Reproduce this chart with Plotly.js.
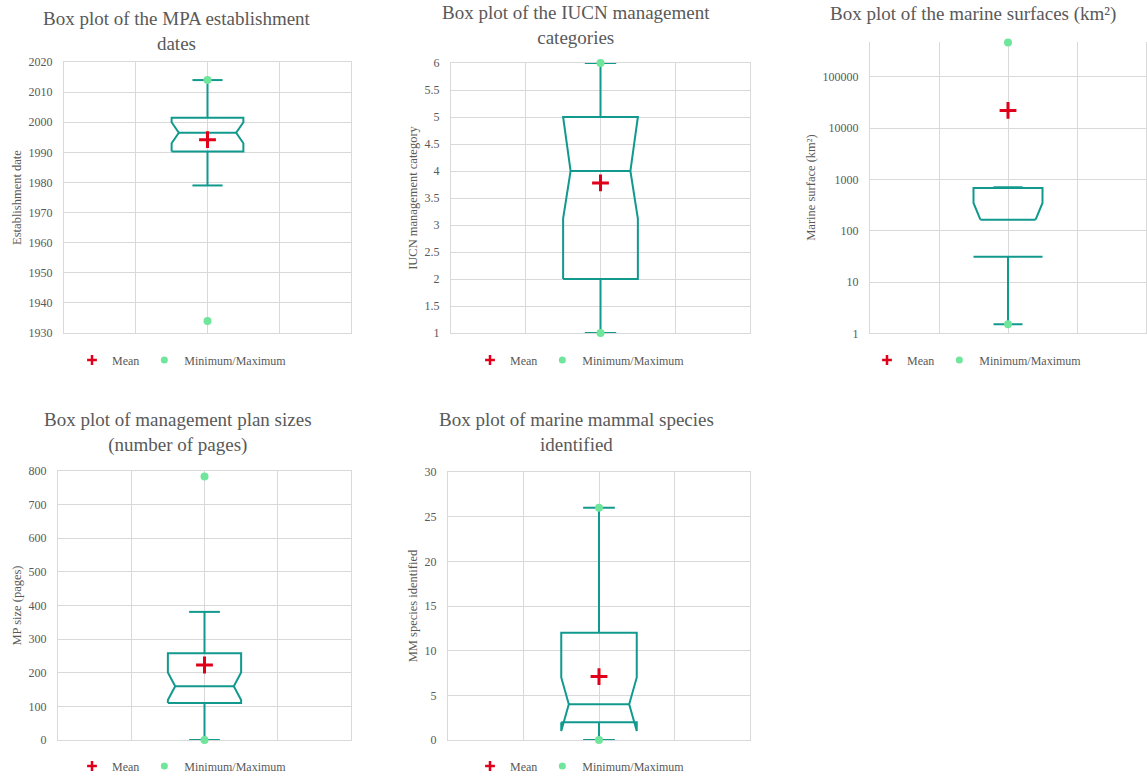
<!DOCTYPE html>
<html>
<head>
<meta charset="utf-8">
<script src="https://cdn.plot.ly/plotly-3.0.1.min.js"></script>
<style>html,body{margin:0;padding:0;background:#fff;}#chart{width:1147px;height:776px;}</style>
</head>
<body>
<div id="chart"></div>
<script>
// ---------- data ----------
const chartTitles = [
  "Box plot of the MPA establishment<br>dates",
  "Box plot of the IUCN management<br>categories",
  "Box plot of the marine surfaces (km²)",
  "Box plot of management plan sizes<br>(number of pages)",
  "Box plot of marine mammal species<br>identified"
];
const axisTitles = ["Establishment date", "IUCN management category", "Marine surface (km²)", "MP size (pages)", "MM species identified"];
const legendNames = ["Mean", "Minimum/Maximum"];

const q1         = [1990.25, 2,    31,     110, 2];
const median     = [1996.5,  4,    164,    160, 4];
const q3         = [2001.5,  5,    680,    258, 12];
const notchLow   = [1993,    3.12, null,   119, 1];   // null: lower notch falls below 0 (not drawable on log axis)
const notchHigh  = [2000,    5,    347,    201, 7];
const whiskerLow = [1979,    1,    1.5,    0,   0];
const whiskerHigh= [2014,    6,    700,    381, 26];
const means      = [1994.2,  3.78, 22100,  223, 7.1];
const minimums   = [1934,    1,    1.5,    0,   0];
const maximums   = [2014,    6,    468000, 784, 26];

const yRanges = [[1930, 2020], [1, 6], [0, 5.684], [0, 800], [0, 30]];
const yDticks = [10, 0.5, 1, 100, 5];

// ---------- layout geometry (pixels) ----------
const W = 1147, H = 776;
const boxes = [
  {l: 64,  r: 351,  t: 62,  b: 333},
  {l: 451, r: 750,  t: 63,  b: 333},
  {l: 870, r: 1146, t: 41.7,b: 333.3},
  {l: 58,  r: 351,  t: 471, b: 740},
  {l: 448, r: 750,  t: 472, b: 740}
];
const titlePos = [[177, 31.5], [576, 25], [973, 13.5], [178, 432], [576, 432]];
const legendPos = [[182, 360], [580, 360], [977, 360], [182, 766], [580, 766]];

const TEAL = '#11998E', RED = '#E0001A', GREEN = '#70E59C', GREY = '#595959', GRID = '#D9D9D9';
const FONT = 'Liberation Serif';

const traces = [];
const layout = {
  width: W, height: H,
  margin: {l: 0, r: 0, t: 0, b: 0, autoexpand: false},
  paper_bgcolor: '#fff', plot_bgcolor: '#fff',
  font: {family: FONT, color: GREY, size: 12},
  showlegend: true,
  annotations: [],
  hovermode: false
};

for (let i = 0; i < 5; i++) {
  const n = i === 0 ? '' : String(i + 1);
  const xa = 'x' + n, ya = 'y' + n;
  const b = boxes[i];
  const isLog = i === 2;

  // box outline built from the statistics
  const L = 1.5, R = 2.5, Li = 1.6, Ri = 2.4, cL = 1.79, cR = 2.21, C = 2;
  let bx, by;
  if (notchLow[i] !== null) {
    bx = [L, L, Li, L, L, R, R, Ri, R, R, L];
    by = [q1[i], notchLow[i], median[i], notchHigh[i], q3[i], q3[i], notchHigh[i], median[i], notchLow[i], q1[i], q1[i]];
  } else {
    bx = [Li, L, L, R, R, Ri, null, L, R];
    by = [median[i], notchHigh[i], q3[i], q3[i], notchHigh[i], median[i], null, q1[i], q1[i]];
  }
  bx = bx.concat([null, Li, Ri, null, C, C, null, cL, cR, null, C, C, null, cL, cR]);
  by = by.concat([null, median[i], median[i], null, q3[i], whiskerHigh[i], null, whiskerHigh[i], whiskerHigh[i],
                  null, q1[i], whiskerLow[i], null, whiskerLow[i], whiskerLow[i]]);

  traces.push({
    type: 'scatter', mode: 'lines', x: bx, y: by, xaxis: xa, yaxis: ya,
    line: {color: TEAL, width: 2}, connectgaps: false, showlegend: false, hoverinfo: 'skip', cliponaxis: false
  });
  traces.push({
    type: 'scatter', mode: 'markers', x: [C, C], y: [minimums[i], maximums[i]], xaxis: xa, yaxis: ya,
    name: legendNames[1], showlegend: false, cliponaxis: false,
    marker: {symbol: 'circle', size: 8, color: GREEN}
  });
  traces.push({
    type: 'scatter', mode: 'markers', x: [C], y: [means[i]], xaxis: xa, yaxis: ya,
    name: legendNames[0], showlegend: false, cliponaxis: false,
    marker: {symbol: 'cross-thin', size: 12, color: RED, line: {color: RED, width: 3}}
  });
  // legend entries (smaller symbols, as in the reference legend)
  traces.push({
    type: 'scatter', mode: 'markers', x: [null], y: [null], xaxis: xa, yaxis: ya,
    name: legendNames[0], legend: 'legend' + n, legendrank: 1,
    marker: {symbol: 'cross-thin', size: 7, color: RED, line: {color: RED, width: 2.5}}
  });
  traces.push({
    type: 'scatter', mode: 'markers', x: [null], y: [null], xaxis: xa, yaxis: ya,
    name: legendNames[1], legend: 'legend' + n, legendrank: 2,
    marker: {symbol: 'circle', size: 7, color: GREEN}
  });

  layout['xaxis' + n] = {
    domain: [b.l / W, b.r / W], anchor: ya, range: [0, 4], dtick: 1, tick0: 0,
    showticklabels: false, ticks: '', showgrid: true, gridcolor: GRID, gridwidth: 1,
    zeroline: false, showline: true, linecolor: GRID, linewidth: 1, mirror: !isLog,
    layer: 'below traces', fixedrange: true
  };
  layout['yaxis' + n] = {
    domain: [1 - b.b / H, 1 - b.t / H], anchor: xa,
    type: isLog ? 'log' : 'linear', range: yRanges[i], dtick: yDticks[i],
    tickformat: isLog ? 'd' : '',
    showgrid: true, gridcolor: GRID, gridwidth: 1, zeroline: false,
    showline: true, linecolor: GRID, linewidth: 1, mirror: true,
    layer: 'below traces',
    ticks: '', ticklabelstandoff: 8,
    tickfont: {family: FONT, size: 12, color: GREY},
    title: {text: axisTitles[i], font: {family: FONT, size: 12.5, color: GREY}, standoff: 4},
    fixedrange: true
  };
  layout['legend' + n] = {
    orientation: 'h', x: legendPos[i][0] / W, y: 1 - legendPos[i][1] / H,
    xanchor: 'center', yanchor: 'middle', xref: 'paper', yref: 'paper', borderwidth: 0,
    font: {family: FONT, size: 12, color: GREY}, bgcolor: 'rgba(0,0,0,0)',
    itemclick: false, itemdoubleclick: false, traceorder: 'normal'
  };
  layout.annotations.push({
    text: chartTitles[i], xref: 'paper', yref: 'paper',
    x: titlePos[i][0] / W, y: 1 - titlePos[i][1] / H, xanchor: 'center', yanchor: 'middle',
    showarrow: false, align: 'center',
    font: {family: FONT, size: 19, color: GREY}
  });
}

Plotly.newPlot('chart', traces, layout, {staticPlot: true, displayModeBar: false});
</script>
</body>
</html>
